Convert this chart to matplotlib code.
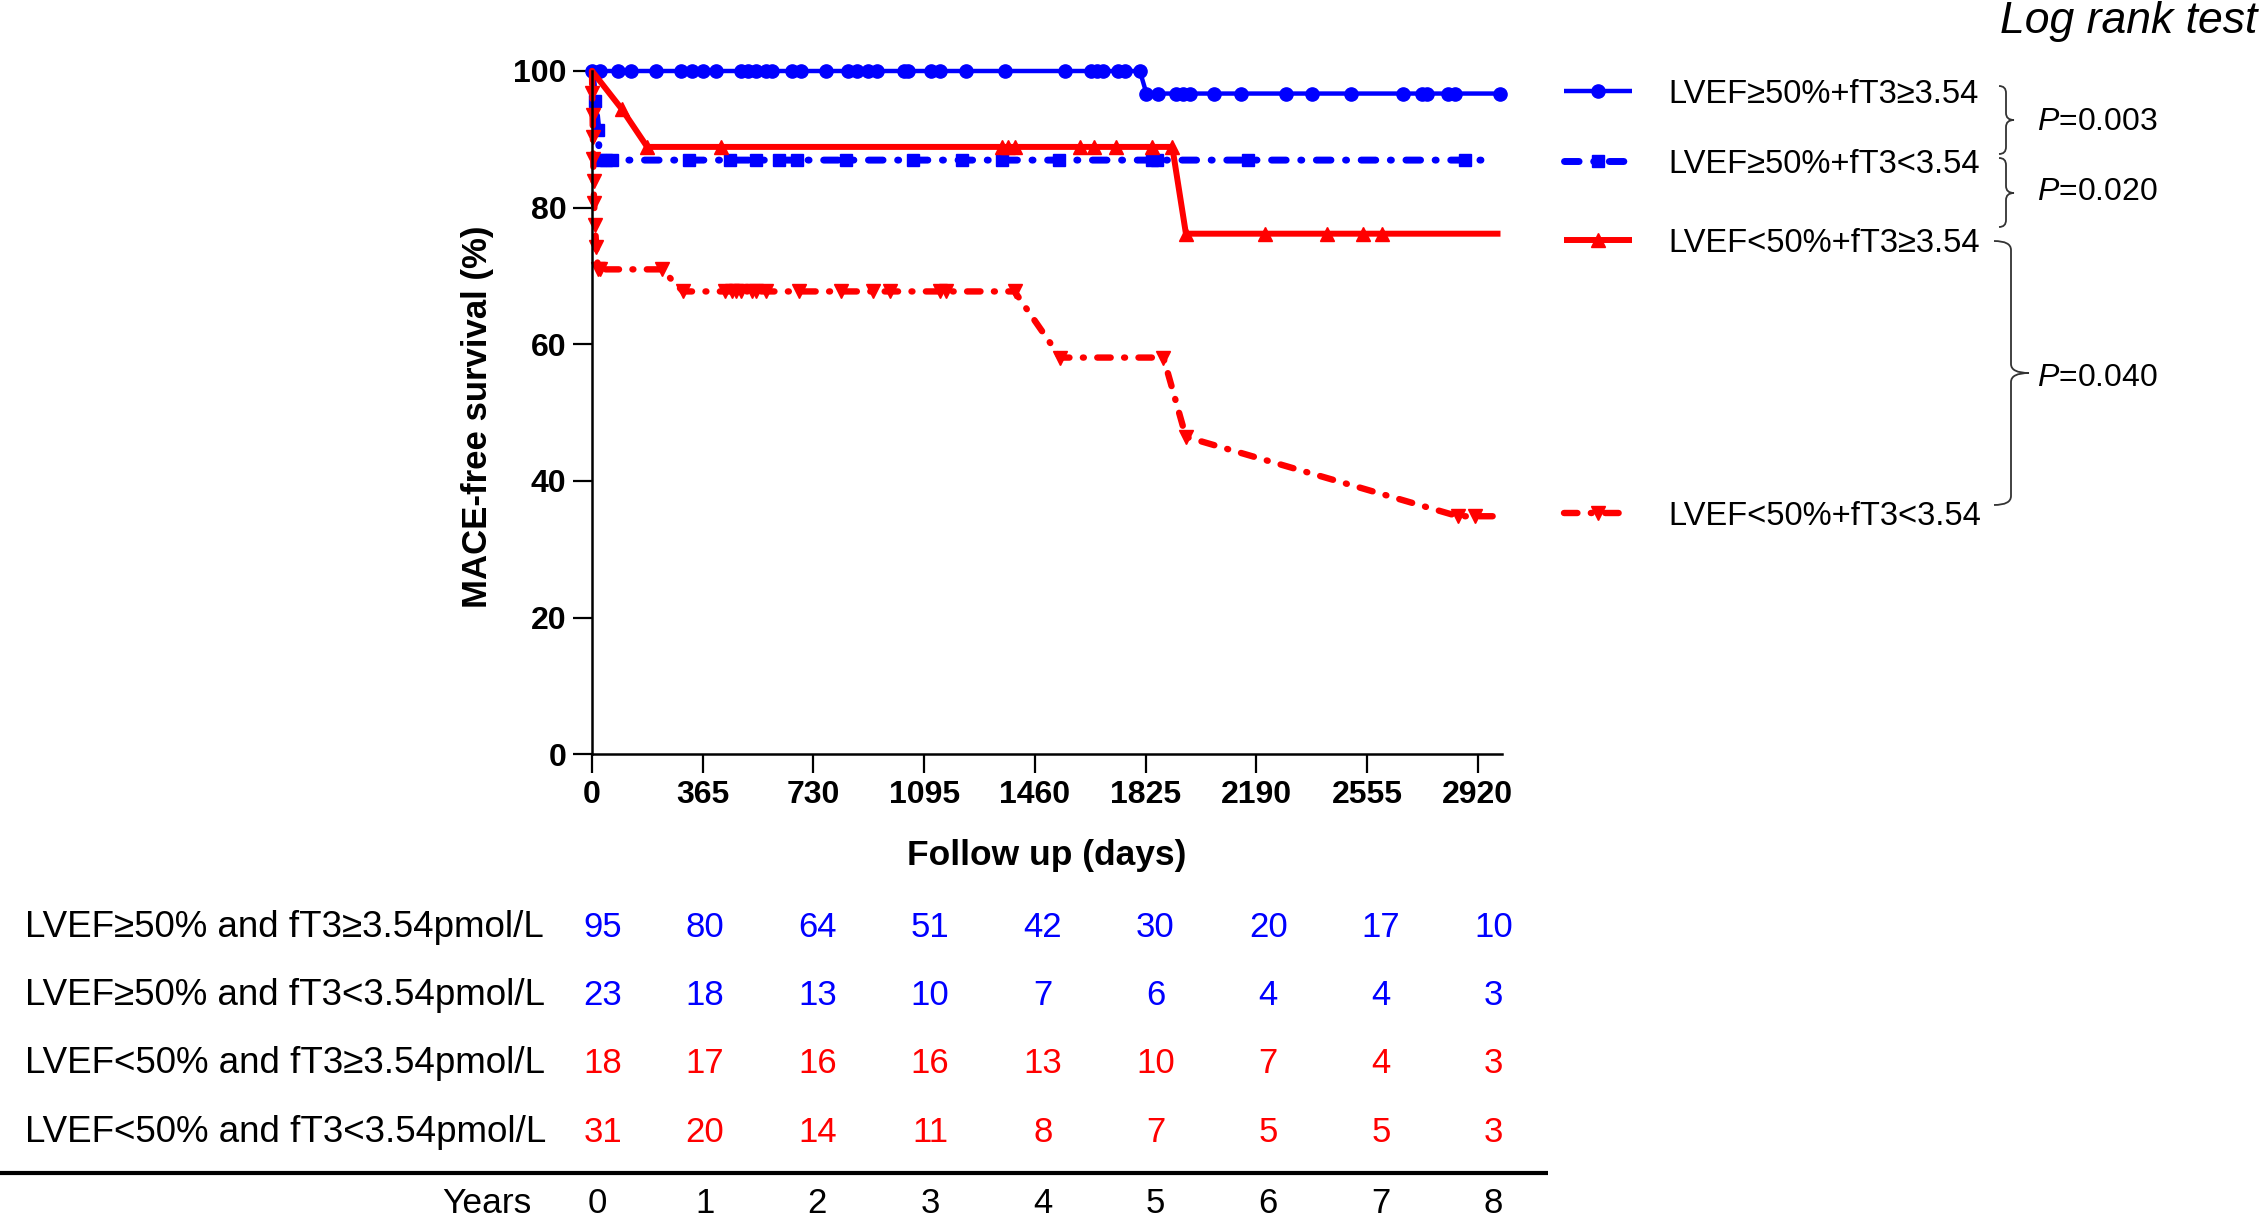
import matplotlib
matplotlib.use("Agg")
import matplotlib.pyplot as plt
from matplotlib.path import Path
from matplotlib.patches import PathPatch

plt.rcParams["font.family"] = ["Liberation Sans", "DejaVu Sans"]
plt.rcParams["mathtext.fontset"] = "custom"
plt.rcParams["mathtext.rm"] = "Liberation Sans"
plt.rcParams["mathtext.it"] = "Liberation Sans:italic"

BLUE = "#0000ff"
RED = "#ff0000"

# ---- data ----
day_ticks = [0, 365, 730, 1095, 1460, 1825, 2190, 2555, 2920]
year_labels = ["0", "1", "2", "3", "4", "5", "6", "7", "8"]
surv_ticks = [0, 20, 40, 60, 80, 100]

group_labels = ["LVEF≥50%+fT3≥3.54", "LVEF≥50%+fT3<3.54",
                "LVEF<50%+fT3≥3.54", "LVEF<50%+fT3<3.54"]
table_labels = ["LVEF≥50% and fT3≥3.54pmol/L", "LVEF≥50% and fT3<3.54pmol/L",
                "LVEF<50% and fT3≥3.54pmol/L", "LVEF<50% and fT3<3.54pmol/L"]

at_risk_1 = [95, 80, 64, 51, 42, 30, 20, 17, 10]
at_risk_2 = [23, 18, 13, 10, 7, 6, 4, 4, 3]
at_risk_3 = [18, 17, 16, 16, 13, 10, 7, 4, 3]
at_risk_4 = [31, 20, 14, 11, 8, 7, 5, 5, 3]

# curve vertices (days, survival %)
g1_t = [0, 1806, 1828, 2995]
g1_s = [100, 100, 96.7, 96.7]
g1_marks = {
    100: [0, 27, 86, 130, 211, 292, 329, 366, 410, 491, 513, 542, 572, 594, 660,
          689, 770, 844, 873, 910, 940, 1028, 1043, 1116, 1146, 1234, 1360,
          1560, 1645, 1665, 1686, 1733, 1758, 1806],
    96.7: [1828, 1867, 1924, 1947, 1970, 2049, 2140, 2287, 2373, 2503, 2673,
           2736, 2753, 2821, 2844, 2995],
}

g2_t = [0, 10, 20, 25, 2975]
g2_s = [100, 95.65, 91.3, 86.96, 86.96]
g2_marks = {
    95.65: [10],
    91.3: [20],
    86.96: [25, 45, 65, 321, 454, 542, 616, 675, 837, 1057, 1219, 1350, 1540,
            1845, 1862, 2162, 2878],
}

g3_t = [0, 98, 182, 1913, 1958, 2995]
g3_s = [100, 94.44, 88.89, 88.89, 76.19, 76.19]
g3_marks = {
    94.44: [98],
    88.89: [182, 424, 1350, 1372, 1393, 1610, 1655, 1729, 1845, 1913],
    76.19: [1958, 2219, 2424, 2543, 2605],
}

g4_t = [0, 1, 2, 3, 4, 5, 7, 10, 14, 20, 230, 300, 1393, 1544, 1884, 1958,
        2855, 2990]
g4_s = [100, 96.77, 93.55, 90.32, 87.10, 83.87, 80.65, 77.42, 74.19, 70.97,
        70.97, 67.74, 67.74, 58.06, 58.06, 46.45, 34.84, 34.84]
g4_marks = {
    96.77: [1], 93.55: [2], 90.32: [3], 87.10: [4], 83.87: [5], 80.65: [7],
    77.42: [10], 74.19: [14],
    70.97: [20, 25, 230],
    67.74: [300, 439, 461, 476, 491, 527, 542, 572, 682, 822, 925, 984, 1146,
            1168, 1393],
    58.06: [1544, 1884],
    46.45: [1958],
    34.84: [2855, 2912],
}

p_values = ["0.003", "0.020", "0.040"]

# ---- figure ----
W, H = 2264, 1222
fig = plt.figure(figsize=(W / 100, H / 100), dpi=100)
ax = fig.add_axes([592 / W, 1 - 754.3 / H, 910 / W, 683.3 / H])
ov = fig.add_axes([0, 0, 1, 1], zorder=5)
ov.set_xlim(0, W)
ov.set_ylim(H, 0)
ov.axis("off")

dashdot = dict(dashes=(2.1, 2.1, 0.15, 2.1), dash_capstyle="round")
styles = [
    dict(color=BLUE, lw=3.2, marker="o", ms=9.5, extra={}),
    dict(color=BLUE, lw=5.0, marker="s", ms=9.0, extra=dashdot),
    dict(color=RED, lw=4.3, marker="^", ms=10.0, extra={}),
    dict(color=RED, lw=4.6, marker="v", ms=10.0, extra=dashdot),
]
curves = [(g1_t, g1_s, g1_marks), (g2_t, g2_s, g2_marks),
          (g3_t, g3_s, g3_marks), (g4_t, g4_s, g4_marks)]

for (t, s, marks), st in zip(curves, styles):
    ax.plot(t, s, color=st["color"], lw=st["lw"], clip_on=False,
            solid_capstyle="butt", **st["extra"])
    mt = [x for lvl, xs in marks.items() for x in xs]
    mv = [lvl for lvl, xs in marks.items() for x in xs]
    ax.plot(mt, mv, ls="none", marker=st["marker"], ms=st["ms"],
            color=st["color"], mec=st["color"], clip_on=False)

ax.set_xlim(0, 3000)
ax.set_ylim(0, 100)
ax.set_xticks(day_ticks)
ax.set_yticks(surv_ticks)
ax.spines["top"].set_visible(False)
ax.spines["right"].set_visible(False)
for sp in ("left", "bottom"):
    ax.spines[sp].set_linewidth(1.8)
ax.tick_params(direction="out", length=13.5, width=1.6, labelsize=23, pad=5)
for lab in ax.get_xticklabels() + ax.get_yticklabels():
    lab.set_fontweight("bold")

# axis titles
ov.text(477, 417, "MACE-free survival (%)", rotation=90, ha="center",
        va="center", fontsize=25, fontweight="bold")
ov.text(1047, 856, "Follow up (days)", ha="center", va="center",
        fontsize=25.5, fontweight="bold")

# legend at the curve ends
leg_y = [97.1, 86.8, 75.2, 35.3]
for lab, st, y in zip(group_labels, styles, leg_y):
    ax.plot([3205, 3429], [y, y], color=st["color"], lw=st["lw"],
            clip_on=False, solid_capstyle="butt", **st["extra"])
    ax.plot([3317], [y], ls="none", marker=st["marker"], ms=st["ms"],
            color=st["color"], clip_on=False)
    ax.text(3548, y, lab, ha="left", va="center_baseline", fontsize=23.5,
            clip_on=False)


def brace(xh, xs, xt, y0, y1, ym, r=7):
    verts = [(xh, y0), (xs, y0), (xs, y0 + r), (xs, ym - r), (xs, ym),
             (xt, ym), (xs, ym), (xs, ym + r), (xs, y1 - r), (xs, y1),
             (xh, y1)]
    codes = [Path.MOVETO, Path.CURVE3, Path.CURVE3, Path.LINETO, Path.CURVE3,
             Path.CURVE3, Path.CURVE3, Path.CURVE3, Path.LINETO, Path.CURVE3,
             Path.CURVE3]
    ov.add_patch(PathPatch(Path(verts, codes), fc="none", ec="#333333",
                           lw=1.3))


brace(1999, 2006, 2014, 86, 154, 120)
brace(1999, 2006, 2014, 158, 227, 193)
brace(1994, 2011, 2029, 241, 505, 373, r=9)

for p, y in zip(p_values, [118, 188, 374]):
    ov.text(2037, y, r"$\it{P}$=" + p, ha="left", va="center_baseline",
            fontsize=23)

ov.text(2000, 33, "Log rank test", ha="left", va="baseline", fontsize=32,
        style="italic")

# number-at-risk table (columns slightly wider spaced than the day ticks)
col_x = [592 + 112.7 * i for i in range(len(day_ticks))]
num_x = [col_x[0] + 11] + col_x[1:]
year_x = [col_x[0] + 5] + col_x[1:]
rows = [(table_labels[0], at_risk_1, BLUE), (table_labels[1], at_risk_2, BLUE),
        (table_labels[2], at_risk_3, RED), (table_labels[3], at_risk_4, RED)]
row_base = [937, 1005, 1073, 1142]
for (lab, counts, col), yb in zip(rows, row_base):
    ov.text(25, yb, lab, ha="left", va="baseline", fontsize=26.5)
    for x, n in zip(num_x, counts):
        ov.text(x, yb, str(n), ha="center", va="baseline", color=col,
                fontsize=25)

ov.plot([0, 1548], [1173, 1173], color="black", lw=3, solid_capstyle="butt")
ov.text(531, 1213, "Years", ha="right", va="baseline", fontsize=25.5)
for x, yl in zip(year_x, year_labels):
    ov.text(x, 1213, yl, ha="center", va="baseline", fontsize=25)

fig.savefig("out.png", dpi=100)
